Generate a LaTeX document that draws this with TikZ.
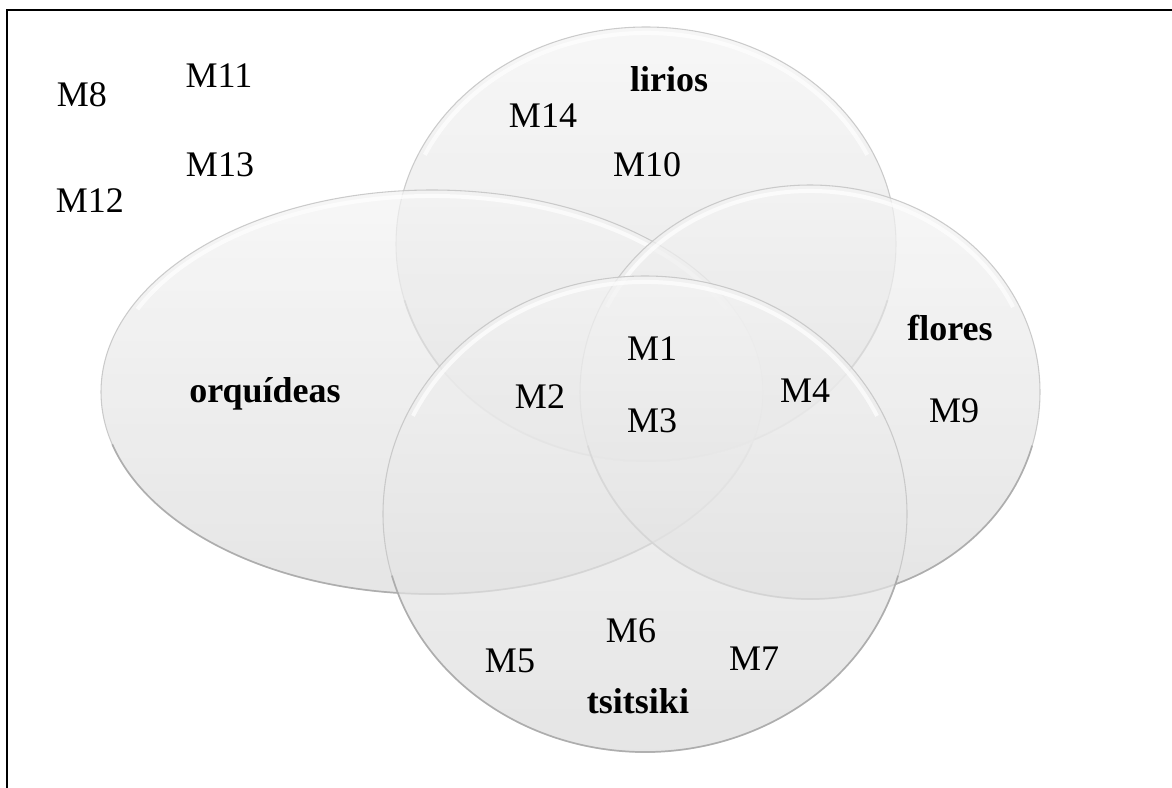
\documentclass[tikz,border=0pt]{standalone}
\usepackage{fontspec}
\setmainfont{Liberation Serif}
\usetikzlibrary{positioning}

\tikzset{
    setshape/.style={draw=gray!45, line width=0.8, top color=gray!9, bottom color=gray!28, fill opacity=0.72, draw opacity=0.9},
    setrim/.style={draw=gray!70, line width=1.3, draw opacity=0.8},
    setglow/.style={draw=white, line width=3, draw opacity=0.7},
    member/.style={font=\fontsize{27}{32}\selectfont, anchor=base, inner sep=0},
    setname/.style={font=\fontsize{27}{32}\selectfont\bfseries, anchor=base, inner sep=0}
}

\begin{document}
\begin{tikzpicture}[x=0.75pt,y=0.75pt,yscale=-1,xscale=1]
    \useasboundingbox (0,0) rectangle (1172,788);

    %Frame: top and left edge
    \draw [line width=1.5] (7,788) -- (7,10) -- (1172,10) ;

    %Shape: Ellipse [lirios]
    \draw [setshape] (646,244) ellipse [x radius=250, y radius=217] ;
    \draw [setrim] (646,244) ++(15:250 and 217) arc [start angle=15, end angle=165, x radius=250, y radius=217] ;
    \draw [setglow] (646,244) ++(205:244 and 211) arc [start angle=205, end angle=335, x radius=244, y radius=211] ;
    %Shape: Ellipse [orquideas]
    \draw [setshape] (432,392) ellipse [x radius=331, y radius=202] ;
    \draw [setrim] (432,392) ++(15:331 and 202) arc [start angle=15, end angle=165, x radius=331, y radius=202] ;
    \draw [setglow] (432,392) ++(205:325 and 196) arc [start angle=205, end angle=335, x radius=325, y radius=196] ;
    %Shape: Ellipse [flores]
    \draw [setshape] (810,392) ellipse [x radius=230, y radius=207] ;
    \draw [setrim] (810,392) ++(15:230 and 207) arc [start angle=15, end angle=165, x radius=230, y radius=207] ;
    \draw [setglow] (810,392) ++(205:224 and 201) arc [start angle=205, end angle=335, x radius=224, y radius=201] ;
    %Shape: Ellipse [tsitsiki]
    \draw [setshape] (645,514) ellipse [x radius=262, y radius=238] ;
    \draw [setrim] (645,514) ++(15:262 and 238) arc [start angle=15, end angle=165, x radius=262, y radius=238] ;
    \draw [setglow] (645,514) ++(205:256 and 232) arc [start angle=205, end angle=335, x radius=256, y radius=232] ;

    % Text Node
    \node [setname] (lirios) at (669,92) {lirios};
    % Text Node
    \node [setname] (orquideas) at (265,402) {orquídeas};
    % Text Node
    \node [setname] (flores) at (950,340) {flores};
    % Text Node
    \node [setname] (tsitsiki) at (638,713) {tsitsiki};

    % Text Node
    \node [member] (m1) at (652,360) {M1};
    % Text Node
    \node [member] (m2) at (540,408) {M2};
    % Text Node
    \node [member] (m3) at (652,432) {M3};
    % Text Node
    \node [member] (m4) at (805,402) {M4};
    % Text Node
    \node [member] (m5) at (510,672) {M5};
    % Text Node
    \node [member] (m6) at (631,642) {M6};
    % Text Node
    \node [member] (m7) at (754,670) {M7};
    % Text Node
    \node [member] (m8) at (82,107) {M8};
    % Text Node
    \node [member] (m9) at (954,422) {M9};
    % Text Node
    \node [member] (m10) at (647,177) {M10};
    % Text Node
    \node [member] (m11) at (219,88) {M11};
    % Text Node
    \node [member] (m12) at (90,213) {M12};
    % Text Node
    \node [member] (m13) at (220,177) {M13};
    % Text Node
    \node [member] (m14) at (543,128) {M14};

\end{tikzpicture}
\end{document}
